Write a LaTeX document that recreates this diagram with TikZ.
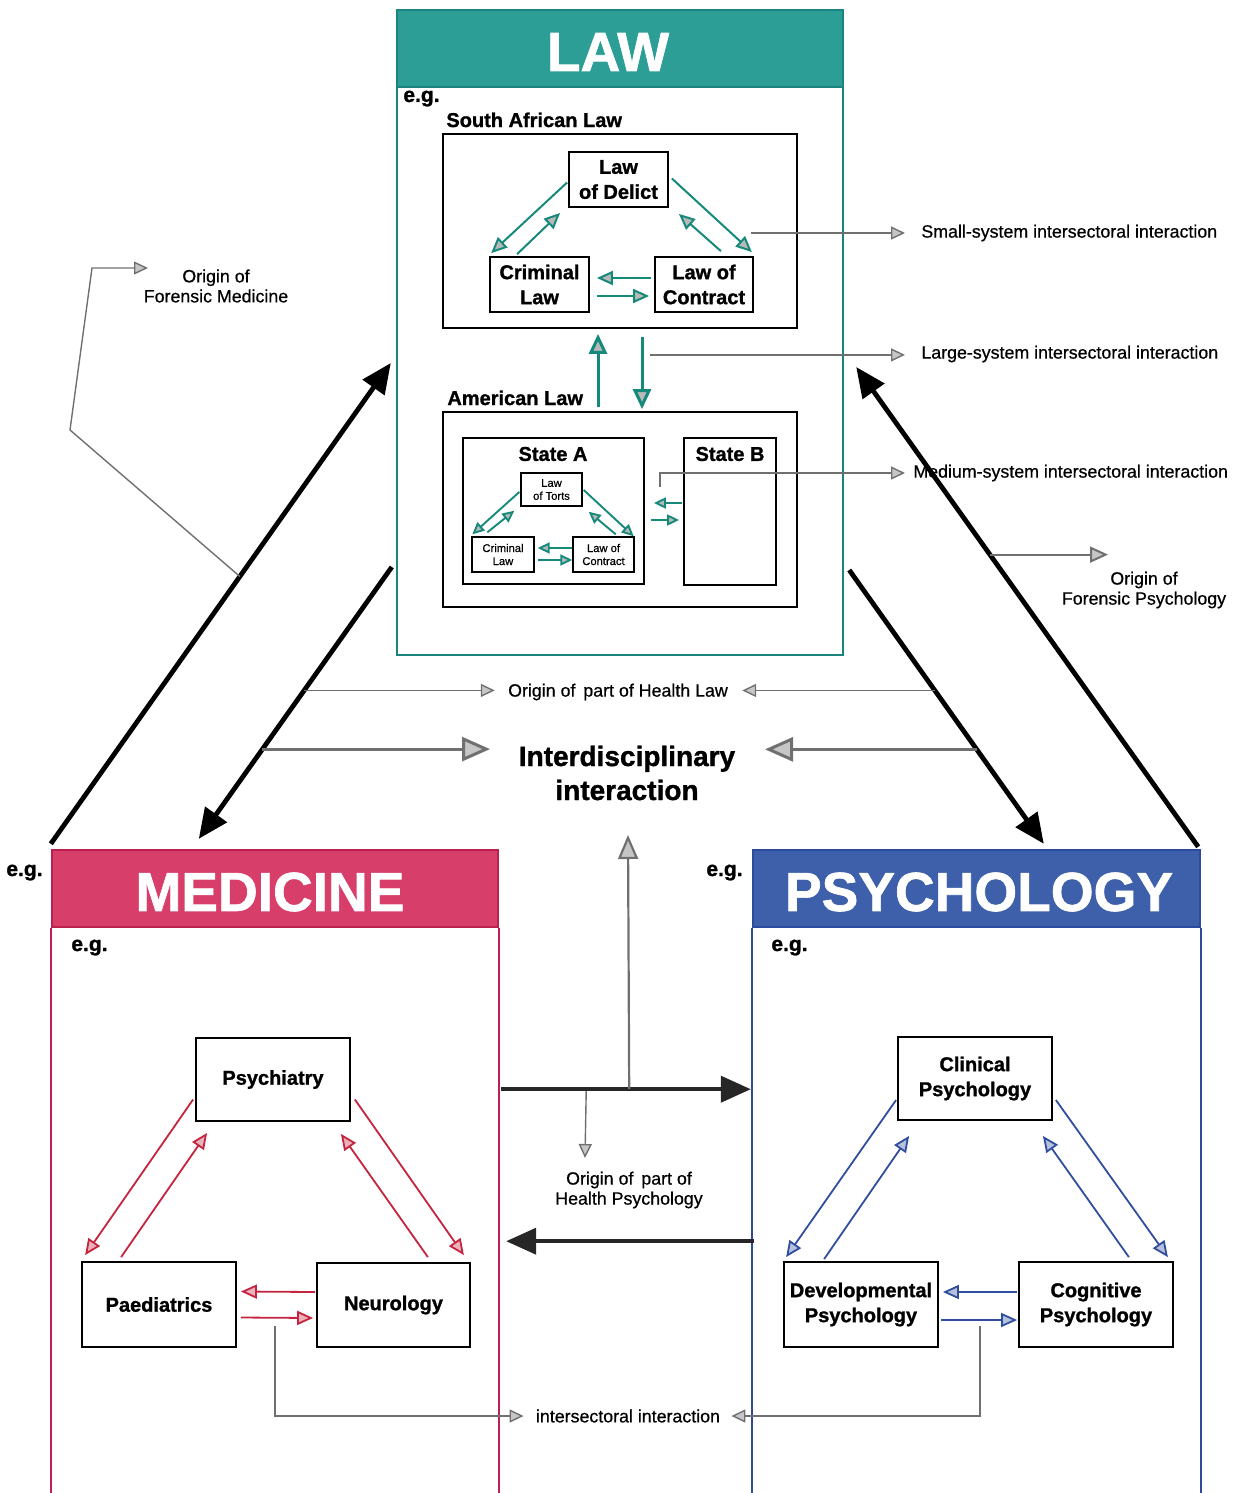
\documentclass[tikz,border=0pt]{standalone}
\usepackage{fontspec}
\setmainfont{Liberation Sans}[BoldFeatures={FakeBold=1.2}]
\newfontfamily\lblfont{Liberation Sans}[FakeBold=0.6]
\usetikzlibrary{arrows.meta,calc}
\definecolor{tealA}{RGB}{44,158,150}
\definecolor{tealB}{RGB}{28,132,126}
\definecolor{tealC}{RGB}{22,138,122}
\definecolor{redA}{RGB}{216,62,106}
\definecolor{redB}{RGB}{188,32,78}
\definecolor{redC}{RGB}{196,36,62}
\definecolor{blueA}{RGB}{62,96,170}
\definecolor{blueB}{RGB}{44,74,158}
\definecolor{blueC}{RGB}{48,78,158}
\definecolor{grayA}{RGB}{112,112,112}
\begin{document}
\begin{tikzpicture}[x=0.5pt,y=-0.5pt]
\tikzset{
 every node/.style={inner sep=0pt},
 box/.style={draw=black, line width=0.9pt, fill=white, align=center, font=\bfseries\fontsize{10}{12.5}\selectfont},
 sbox/.style={draw=black, line width=0.7pt, fill=white, align=center, font=\lblfont\fontsize{5.6}{6.5}\selectfont},
 frame/.style={draw=black, line width=0.9pt},
 headtxt/.style={font=\bfseries\fontsize{10}{12}\selectfont, anchor=base west},
 egtxt/.style={font=\bfseries\fontsize{10.5}{12}\selectfont, anchor=base west},
 lbl/.style={font=\lblfont\fontsize{8.9}{10}\selectfont, align=center},
 titletxt/.style={text=white, font=\bfseries\fontsize{27.5}{30}\selectfont},
 tarr/.style={draw=tealC, line width=1pt, -{Triangle[length=8pt,width=7pt,fill=gray!55]}},
 tarrB/.style={draw=tealC, line width=1.5pt, -{Triangle[length=10pt,width=9pt,fill=gray!55]}},
 tarrs/.style={draw=tealC, line width=0.95pt, -{Triangle[length=6pt,width=5.5pt,fill=gray!55]}},
 rarr/.style={draw=redC, line width=0.9pt, -{Triangle[length=8pt,width=7pt,fill=redC!35]}},
 barr/.style={draw=blueC, line width=0.9pt, -{Triangle[length=8pt,width=7pt,fill=blueC!35]}},
 garr/.style={draw=grayA, line width=0.7pt, -{Triangle[length=7pt,width=6.5pt,fill=gray!45]}},
 garrB/.style={draw=grayA, line width=1pt, -{Triangle[length=9pt,width=8pt,fill=gray!45]}},
 gmid/.style={draw=grayA, line width=1.1pt, -{Triangle[length=12pt,width=10pt,fill=gray!45]}},
 gthick/.style={draw=grayA, line width=1.5pt, -{Triangle[length=14pt,width=12pt,fill=gray!45]}},
 karr/.style={draw=black, line width=2.4pt, -{Triangle[length=15pt,width=13pt]}},
 harr/.style={draw=black!85, line width=2pt, -{Triangle[length=15pt,width=13pt]}},
}
\useasboundingbox (0,0) rectangle (1238,1493);
\coordinate (bot) at (0,1493);

% ================= LAW =================
\node[draw=tealB, line width=1.2pt, minimum width=223pt, minimum height=322.5pt] (lawbox) at (620,332.5) {};
\node[fill=tealA, draw=tealB, line width=1.2pt, minimum width=223pt, minimum height=38.5pt] (lawhead) at (620,48.5) {};
\node[titletxt] (lawtitle) at (608,52) {LAW};
\node[egtxt] (lawEg) at (403,102) {e.g.};
\node[headtxt] (saT) at (446,127) {South African Law};
\node[frame, minimum width=177pt, minimum height=97pt] (sabox) at (620,231) {};
\node[box, minimum width=49.5pt, minimum height=27.5pt] (delict) at (618.5,179.5) {Law\\of Delict};
\node[box, minimum width=49.5pt, minimum height=27.5pt] (crim) at (539.5,284.5) {Criminal\\Law};
\node[box, minimum width=49pt, minimum height=27.5pt] (contract) at (704,284.5) {Law of\\Contract};
\draw[tarr] ([shift={(-1,3)}]delict.west) -- ([shift={(2,-3)}]crim.north west);
\draw[tarr] ([shift={(28,-2)}]crim.north west) -- ([shift={(-8,5)}]delict.south west);
\draw[tarr] ([shift={(3,-1)}]delict.east) -- ([shift={(-2,-4)}]contract.north east);
\draw[tarr] ([shift={(-33,-5)}]contract.north east) -- ([shift={(10,6)}]delict.south east);
\draw[tarr] ([shift={(-3,-6.5)}]contract.west) -- ([shift={(7,-6.5)}]crim.east);
\draw[tarr] ([shift={(7,11.5)}]crim.east) -- ([shift={(-5,11.5)}]contract.west);

\node[headtxt] (amT) at (447,405) {American Law};
\node[frame, minimum width=177pt, minimum height=97.5pt] (ambox) at (620,509.5) {};
\draw[tarrB] ([shift={(-22,-4)}]ambox.north) -- ([shift={(-22,5)}]sabox.south);
\draw[tarrB] ([shift={(22,8)}]sabox.south) -- ([shift={(22,-2)}]ambox.north);
\node[frame, minimum width=90.5pt, minimum height=73pt] (stateA) at (553.5,511) {};
\node[frame, minimum width=46pt, minimum height=73.5pt] (stateB) at (730,511.5) {};
\node[font=\bfseries\fontsize{10}{12}\selectfont] (sAt) at (553,454) {State A};
\node[font=\bfseries\fontsize{10}{12}\selectfont] (sBt) at (730,454) {State B};
\node[sbox, minimum width=30.5pt, minimum height=16.5pt] (torts) at (551.5,489.5) {Law\\of Torts};
\node[sbox, minimum width=31pt, minimum height=17.5pt] (crim2) at (503,554.5) {Criminal\\Law};
\node[sbox, minimum width=30.5pt, minimum height=17.5pt] (contract2) at (603.5,554.5) {Law of\\Contract};
\draw[tarrs] ([shift={(-1,2.5)}]torts.west) -- ([shift={(1,-2)}]crim2.north west);
\draw[tarrs] ([shift={(16,-4)}]crim2.north west) -- ([shift={(-6,4)}]torts.south west);
\draw[tarrs] ([shift={(1,0.5)}]torts.east) -- ([shift={(-1,0)}]contract2.north east);
\draw[tarrs] ([shift={(-19,-2)}]contract2.north east) -- ([shift={(6,5)}]torts.south east);
\draw[tarrs] ([shift={(0,-6.5)}]contract2.west) -- ([shift={(3,-6.5)}]crim2.east);
\draw[tarrs] ([shift={(3,5.5)}]crim2.east) -- ([shift={(0,5.5)}]contract2.west);
\draw[tarrs] ([shift={(-1,-8.5)}]stateB.west) -- ([shift={(9,-8)}]stateA.east);
\draw[tarrs] ([shift={(6,9)}]stateA.east) -- ([shift={(-4,8.5)}]stateB.west);

% right labels
\node[lbl, anchor=west] (smallLbl) at (921,233) {Small-system intersectoral interaction};
\node[lbl, anchor=west] (largeLbl) at (921,354) {Large-system intersectoral interaction};
\node[lbl, anchor=west] (medLbl) at (913,473) {Medium-system intersectoral interaction};
\coordinate (smS) at ([shift={(-47,2)}]sabox.east);
\draw[garr, shorten >=8pt] (smS) -- (smS -| smallLbl.west);
\coordinate (lgS) at ([shift={(30,26)}]sabox.south);
\draw[garr, shorten >=8pt] (lgS) -- (lgS -| largeLbl.west);
\draw[garr] ([shift={(-23,-24.5)}]stateB.west) |- ([shift={(-8,0)}]medLbl.west);

% ================= MEDICINE =================
\node[fill=redA, draw=redB, line width=1.2pt, minimum width=223pt, minimum height=38.5pt] (medhead) at (275,888.5) {};
\draw[draw=redB, line width=1.2pt] (medhead.south west) -- (medhead.south west |- bot);
\draw[draw=redB, line width=1.2pt] (medhead.south east) -- (medhead.south east |- bot);
\node[titletxt] (medtitle) at (270,892) {MEDICINE};
\node[egtxt] (medEg1) at (6,876) {e.g.};
\node[egtxt] (medEg2) at (71,951) {e.g.};
\node[box, minimum width=77pt, minimum height=41.5pt] (psychiatry) at (273,1079.5) {Psychiatry};
\node[box, minimum width=77pt, minimum height=42.5pt] (paed) at (159,1304.5) {Paediatrics};
\node[box, minimum width=76.5pt, minimum height=42pt] (neuro) at (393.5,1305) {Neurology};
\draw[rarr] ([shift={(-2,20)}]psychiatry.west) -- ([shift={(4,-6)}]paed.north west);
\draw[rarr] ([shift={(40,-4)}]paed.north west) -- ([shift={(12,11)}]psychiatry.south west);
\draw[rarr] ([shift={(4,20)}]psychiatry.east) -- ([shift={(-7,-7)}]neuro.north east);
\draw[rarr] ([shift={(-43,-5)}]neuro.north east) -- ([shift={(-10,12)}]psychiatry.south east);
\draw[rarr] ([shift={(-1,-13)}]neuro.west) -- ([shift={(4,-13)}]paed.east);
\draw[rarr] ([shift={(4,13)}]paed.east) -- ([shift={(-3,13)}]neuro.west);

% ================= PSYCHOLOGY =================
\node[fill=blueA, draw=blueB, line width=1.2pt, minimum width=223.5pt, minimum height=38.5pt] (psyhead) at (976.5,888.5) {};
\draw[draw=blueB, line width=1.2pt] (psyhead.south west) -- (psyhead.south west |- bot);
\draw[draw=blueB, line width=1.2pt] (psyhead.south east) -- (psyhead.south east |- bot);
\node[titletxt] (psytitle) at (979,892) {PSYCHOLOGY};
\node[egtxt] (psyEg1) at (706,876) {e.g.};
\node[egtxt] (psyEg2) at (771,951) {e.g.};
\node[box, minimum width=77pt, minimum height=41.5pt] (clinical) at (975,1078.5) {Clinical\\Psychology};
\node[box, minimum width=77pt, minimum height=42.5pt] (devel) at (861,1304.5) {Developmental\\Psychology};
\node[box, minimum width=77pt, minimum height=42.5pt] (cognit) at (1096,1304.5) {Cognitive\\Psychology};
\draw[barr] ([shift={(-1,21.5)}]clinical.west) -- ([shift={(3,-4)}]devel.north west);
\draw[barr] ([shift={(41,-2)}]devel.north west) -- ([shift={(12,15)}]clinical.south west);
\draw[barr] ([shift={(3,21.5)}]clinical.east) -- ([shift={(-6,-4)}]cognit.north east);
\draw[barr] ([shift={(-45,-4)}]cognit.north east) -- ([shift={(-10,15)}]clinical.south east);
\draw[barr] ([shift={(-1,-12.5)}]cognit.west) -- ([shift={(4,-12.5)}]devel.east);
\draw[barr] ([shift={(2,15.5)}]devel.east) -- ([shift={(-1,15.5)}]cognit.west);

% ================= BIG ARROWS =================
\coordinate (mA) at ([shift={(0,-5)}]medhead.north west);
\coordinate (mB) at ([shift={(-5,30.5)}]lawbox.west);
\coordinate (lA) at ([shift={(-4,234.5)}]lawbox.west);
\coordinate (lB) at ([shift={(148,-10)}]medhead.north west);
\coordinate (pA) at ([shift={(5,237.5)}]lawbox.east);
\coordinate (pB) at ([shift={(292,-5)}]psyhead.north west);
\coordinate (qA) at ([shift={(-3,-2)}]psyhead.north east);
\coordinate (qB) at ([shift={(12,34.5)}]lawbox.east);
\draw[karr] (mA) -- (mB);
\draw[karr] (lA) -- (lB);
\draw[karr] (pA) -- (pB);
\draw[karr] (qA) -- (qB);

% forensic medicine
\node[lbl] (fmLbl) at (216,286) {Origin of\\Forensic Medicine};
\coordinate (fmS) at ($(mA)!0.556!(mB)$);
\draw[garr] (fmS) -- (70,430) -- (92,268) -- ([shift={(-68,-18)}]fmLbl.center);
% forensic psychology
\node[lbl] (fpLbl) at (1144,590) {Origin of\\Forensic Psychology};
\coordinate (fpS) at ($(qA)!0.609!(qB)$);
\coordinate (fpT) at ([shift={(-36,-35)}]fpLbl.center);
\draw[garrB] (fpS) -- (fpS -| fpT);

% center labels
\node[lbl] (hlLbl) at (618,692) {Origin of\, part of Health Law};
\coordinate (hlS1) at ($(lA)!0.454!(lB)$);
\coordinate (hlS2) at ($(pA)!0.44!(pB)$);
\draw[garr, shorten >=6.5pt] (hlS1) -- (hlS1 -| hlLbl.west);
\draw[garr, shorten >=7pt] (hlS2) -- (hlS2 -| hlLbl.east);
\node[font=\bfseries\fontsize{14}{17}\selectfont, align=center] (interd) at (627,773) {Interdisciplinary\\interaction};
\coordinate (idS1) at ($(lA)!0.67!(lB)$);
\coordinate (idS2) at ($(pA)!0.655!(pB)$);
\draw[gthick] (idS1) -- (idS1 -| 490,0);
\draw[gthick] (idS2) -- (idS2 -| 765,0);

% between medicine & psychology
\coordinate (hR1) at ([shift={(2,161)}]medhead.south east);
\draw[harr] (hR1) -- ([shift={(-1,161)}]psyhead.south west);
\draw[harr] ([shift={(2,313)}]psyhead.south west) -- ([shift={(7,313)}]medhead.south east);
\draw[gmid] ([shift={(130,161)}]medhead.south east) -- (628,835);
\node[lbl] (hpLbl) at (629,1190) {Origin of\, part of\\Health Psychology};
\draw[garr] ([shift={(87,163)}]medhead.south east) -- (585,1158);

\node[lbl] (isLbl) at (628,1416) {intersectoral interaction};
\draw[garr] ([shift={(38,-22)}]paed.south east) |- ([shift={(-12,0)}]isLbl.west);
\draw[garr] ([shift={(41,-22)}]devel.south east) |- ([shift={(11,0)}]isLbl.east);
\end{tikzpicture}
\end{document}
